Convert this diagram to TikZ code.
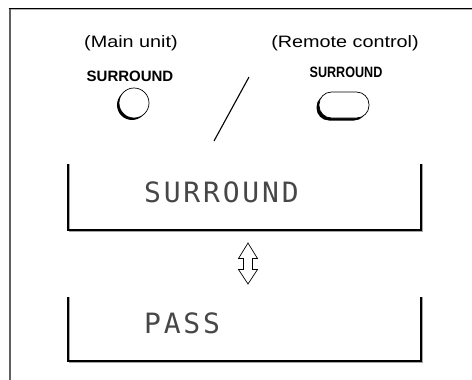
\documentclass[tikz,border=0pt]{standalone}
\usepackage{fontspec}
\setmainfont{Liberation Sans}
\newfontfamily\lcdfont{DejaVu Sans Mono}[LetterSpace=10]
\begin{document}
\begin{tikzpicture}[x=1pt,y=-1pt,
  caption/.style={inner sep=0pt, font=\fontsize{16.5}{18}\selectfont},
  keylabel/.style={inner sep=0pt, font=\fontsize{15}{17}\selectfont\bfseries},
  lcd/.style={inner sep=0pt, text=black!72, font=\fontsize{28}{30}\lcdfont},
  boxline/.style={line width=1.1pt, black},
  boxshadow/.style={line width=1pt, gray!70},
]
\useasboundingbox (0,0) rectangle (472,380);
% outer frame (clipped)
\draw[gray!75!black, line width=2pt] (9.5,8) -- (9.5,380);
\draw[black, line width=1.3pt] (8.5,8.2) -- (472,8.2);
\draw[gray!60, line width=0.6pt] (10.5,9.5) -- (472,9.5);

% captions
\node[caption] (main) at (131,43) {\scalebox{1.2}[1]{(Main unit)}};
\node[caption] (remote) at (345,43) {\scalebox{1.2}[1]{(Remote control)}};
\node[keylabel] (mainkey) at (130,76) {SURROUND};
\node[keylabel] (remkey) at (346,72) {\scalebox{0.84}[1]{SURROUND}};

% main unit button
\coordinate (mb) at (134,103);
\fill[black] ([shift={(-2,2)}]mb) circle[radius=15pt];
\draw[fill=white, line width=0.7pt] (mb) circle[radius=15pt];

% remote button
\coordinate (rb) at (344,105);
\fill[black, rounded corners=12.5pt] ([shift={(-27.5,-10.5)}]rb) rectangle ([shift={(22.5,15.5)}]rb);
\draw[fill=white, line width=0.7pt, rounded corners=12.5pt] ([shift={(-25,-13)}]rb) rectangle ([shift={(25,13)}]rb);

% slash
\coordinate (s1) at (249,77);
\coordinate (s2) at (214,141);
\draw[line width=1.1pt] (s1) -- (s2);

% display box 1
\coordinate (b1tl) at (68,164);
\coordinate (b1br) at (421,230);
\draw[boxshadow] ([shift={(1.4,0)}]b1tl) |- ([shift={(1.4,1.4)}]b1br) -- ([shift={(1.4,0)}]b1br |- b1tl);
\draw[boxline] (b1tl) |- (b1br) -- (b1br |- b1tl);
\node[lcd, anchor=west] (d1) at (144,192.5) {SURROUND};

% display box 2
\coordinate (b2tl) at (68,297);
\coordinate (b2br) at (421,361);
\draw[boxshadow] ([shift={(1.4,0)}]b2tl) |- ([shift={(1.4,1.4)}]b2br) -- ([shift={(1.4,0)}]b2br |- b2tl);
\draw[boxline] (b2tl) |- (b2br) -- (b2br |- b2tl);
\node[lcd, anchor=west] (d2) at (144,323.5) {PASS};

% hollow double arrow
\draw[line width=0.7pt, fill=white] (248,243) -- (257.5,258.5) -- (252.5,258.5) -- (252.5,269.5) -- (257.5,269.5) -- (248,284)
  -- (238.5,269.5) -- (243.5,269.5) -- (243.5,258.5) -- (238.5,258.5) -- cycle;
\end{tikzpicture}
\end{document}
